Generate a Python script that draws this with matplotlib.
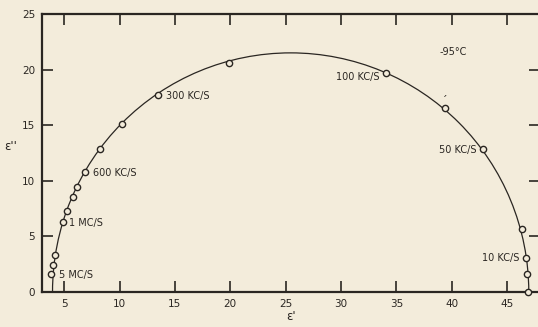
import matplotlib.pyplot as plt
from matplotlib.patches import Arc

# measured points (eps', eps'')
eps_real = [3.77, 3.95, 4.16, 4.94, 5.24, 5.8, 6.2, 6.9, 8.2, 10.25, 13.5, 19.9,
            34.1, 39.4, 42.8, 46.3, 46.7, 46.8, 46.9]
eps_imag = [1.6, 2.4, 3.3, 6.3, 7.3, 8.5, 9.4, 10.8, 12.85, 15.1, 17.7, 20.6,
            19.7, 16.5, 12.85, 5.65, 3.06, 1.57, 0.0]

# fitted circular arc
arc_center = 25.45
arc_radius = 21.5

# frequency labels: text, x, y, alignment
freq_labels = ['5 MC/S', '1 MC/S', '600 KC/S', '300 KC/S', '100 KC/S', '50 KC/S', '10 KC/S']
freq_x = [4.5, 5.4, 7.6, 14.2, 33.5, 42.2, 46.1]
freq_y = [1.5, 6.2, 10.7, 17.65, 19.3, 12.8, 3.0]
freq_ha = ['left', 'left', 'left', 'left', 'right', 'right', 'right']

bg = '#f3ecdb'
ink = '#2a2622'

plt.rcParams['font.family'] = 'DejaVu Sans'

fig = plt.figure(figsize=(5.38, 3.27), dpi=100, facecolor=bg)
ax = fig.add_axes([42/538, 35.3/327, 498.4/538, 277.7/327])
ax.set_facecolor(bg)

#Draw the arc and the points
arc = Arc((arc_center, 0), 2*arc_radius, 2*arc_radius, theta1=0, theta2=180,
          color=ink, linewidth=0.9)
ax.add_patch(arc)
ax.plot(eps_real, eps_imag, linestyle='none', marker='o', markersize=4.5,
        markerfacecolor=bg, markeredgecolor=ink, markeredgewidth=1.0, zorder=3,
        clip_on=False)

#Labels
for txt, x, y, ha in zip(freq_labels, freq_x, freq_y, freq_ha):
    ax.text(x, y, txt, ha=ha, va='center', fontsize=7, color=ink)
ax.text(40.1, 21.6, '-95\u00b0C', ha='center', va='center', fontsize=7, color=ink)
ax.text(39.35, 17.2, '\u00b4', ha='center', va='center', fontsize=8, color=ink)

#Axis ranges and ticks
ax.set_xlim(3, 48)
ax.set_ylim(0, 25)
ax.set_xticks([5, 10, 15, 20, 25, 30, 35, 40, 45])
ax.set_yticks([0, 5, 10, 15, 20, 25])
ax.tick_params(direction='in', length=8, width=1.2, labelsize=7.5, colors=ink,
               top=True, right=True, pad=5)
for s in ax.spines.values():
    s.set_linewidth(1.6)
    s.set_color(ink)

ax.set_xlabel("\u03b5'", fontsize=8.5, color=ink, labelpad=1)
ax.set_ylabel("\u03b5''", fontsize=8.5, color=ink, rotation=0, labelpad=8)

plt.savefig('out.png', dpi=100, facecolor=bg)
